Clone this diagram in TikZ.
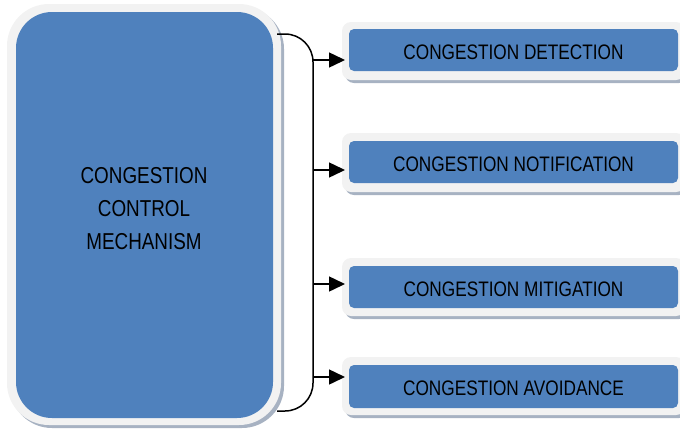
\documentclass[tikz,border=0pt]{standalone}
\usepackage{fontspec}
\setmainfont[FakeStretch=0.82]{Liberation Sans}
\usetikzlibrary{arrows.meta}
\definecolor{boxblue}{HTML}{4F81BD}
\definecolor{rimgray}{HTML}{F2F2F2}
\definecolor{shadowgray}{HTML}{A7B2C2}
\begin{document}
\begin{tikzpicture}[x=1pt,y=-1pt,
  rim/.style={fill=rimgray, rounded corners=#1, inner sep=0pt, outer sep=0pt, anchor=north west,
    preaction={fill=shadowgray, transform canvas={xshift=3pt,yshift=-3pt}}},
  core/.style={fill=boxblue, rounded corners=#1, inner sep=0pt, outer sep=0pt, anchor=north west},
  bigtext/.style={font=\fontsize{23}{33}\selectfont, align=center, text=black},
  smalltext/.style={font=\fontsize{21}{24}\selectfont, text=black},
  bracket/.style={draw=black, line width=1.5pt, rounded corners=28pt},
  arr/.style={draw=black, line width=1.5pt, -{Triangle[length=16pt,width=15pt]}}]
\useasboundingbox (0,0) rectangle (680,429);
% main box
\node[rim=42pt, minimum width=274pt, minimum height=421pt] (mainrim) at (7,4) {};
\node[core=36pt, minimum width=257pt, minimum height=406pt] (maincore) at (16,12) {};
\node[bigtext] (maintext) at (144,209) {CONGESTION\\CONTROL\\MECHANISM};
% small boxes
\node[rim=9pt, minimum width=343pt, minimum height=58pt] (r1) at (342,22) {};
\node[core=5pt, minimum width=329pt, minimum height=42pt] (c1) at (349,29) {};
\node[smalltext] (t1) at ([yshift=-2pt]c1.center) {CONGESTION DETECTION};
\node[rim=9pt, minimum width=343pt, minimum height=59pt] (r2) at (342,133) {};
\node[core=5pt, minimum width=329pt, minimum height=42pt] (c2) at (349,141) {};
\node[smalltext] (t2) at ([yshift=-2pt]c2.center) {CONGESTION NOTIFICATION};
\node[rim=9pt, minimum width=343pt, minimum height=58pt] (r3) at (342,258) {};
\node[core=5pt, minimum width=329pt, minimum height=42pt] (c3) at (349,266) {};
\node[smalltext] (t3) at ([yshift=-2pt]c3.center) {CONGESTION MITIGATION};
\node[rim=9pt, minimum width=343pt, minimum height=58pt] (r4) at (342,357) {};
\node[core=5pt, minimum width=329pt, minimum height=43pt] (c4) at (349,365) {};
\node[smalltext] (t4) at ([yshift=-2pt]c4.center) {CONGESTION AVOIDANCE};
% bracket
\coordinate (bt) at (277,34);
\coordinate (bb) at (277,411);
\draw[bracket] (bt) -- (313,34) -- (313,411) -- (bb);
\coordinate (j1) at (313,60);
\coordinate (j2) at (313,170);
\coordinate (j3) at (313,284);
\coordinate (j4) at (313,377);
\draw[arr] (j1) -- ([xshift=3pt]r1.west |- j1);
\draw[arr] (j2) -- ([xshift=3pt]r2.west |- j2);
\draw[arr] (j3) -- ([xshift=3pt]r3.west |- j3);
\draw[arr] (j4) -- ([xshift=3pt]r4.west |- j4);
\end{tikzpicture}
\end{document}
